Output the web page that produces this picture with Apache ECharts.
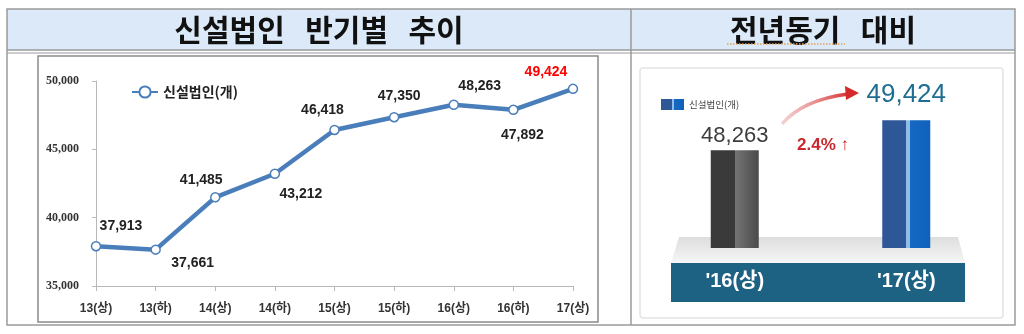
<!DOCTYPE html>
<html>
<head>
<meta charset="utf-8">
<script src="https://cdn.jsdelivr.net/npm/echarts@6/dist/echarts.min.js"></script>
<style>
html,body{margin:0;padding:0;background:#fff;}
#main{width:1024px;height:334px;}
</style>
</head>
<body>
<div id="main"></div>
<script>
// ---- data ----
const leftTitle = '신설법인 반기별 추이';
const rightTitle = '전년동기 대비';
const seriesName = '신설법인(개)';
const lineCategories = ['13(상)', '13(하)', '14(상)', '14(하)', '15(상)', '15(하)', '16(상)', '16(하)', '17(상)'];
const lineValues = [37913, 37661, 41485, 43212, 46418, 47350, 48263, 47892, 49424];
const yMin = 35000, yMax = 50000, yStep = 5000;
const barCategories = ["'16(상)", "'17(상)"];
const barValues = [48263, 49424];
const growthText = '2.4%';

// ---- presentation ----
const labelOffsets = [[25, -20], [37, 14], [-14, -17], [26, 20], [-12, -20], [5, -21], [26, -19], [9, 25], [-27, -17]];
const fmt = v => v.toLocaleString('en-US');
const sansKR = "'Liberation Sans','Noto Sans CJK KR',sans-serif";
const cjk = "'Noto Sans CJK KR',sans-serif";

const chart = echarts.init(document.getElementById('main'), null, {renderer: 'canvas'});

const lineData = lineValues.map((v, i) => ({
  value: v,
  label: {offset: labelOffsets[i], color: i === lineValues.length - 1 ? '#ff0000' : '#222222'}
}));

const barGray = new echarts.graphic.LinearGradient(0, 0, 1, 0, [
  {offset: 0, color: '#3a3a3a'}, {offset: 0.5, color: '#3a3a3a'},
  {offset: 0.5, color: '#757575'}, {offset: 1, color: '#4a4a4a'}
]);
const barBlue = new echarts.graphic.LinearGradient(0, 0, 1, 0, [
  {offset: 0, color: '#2e5797'}, {offset: 0.5, color: '#2e5797'},
  {offset: 0.5, color: '#8fbce8'}, {offset: 0.58, color: '#8fbce8'},
  {offset: 0.58, color: '#1669c2'}, {offset: 1, color: '#0e62bc'}
]);
const barStyles = [
  {color: barGray, label: {color: '#3d3d3d', fontSize: 22, distance: 3}},
  {color: barBlue, label: {color: '#1f6e91', fontSize: 26, distance: 12}}
];
const barData = barValues.map((v, i) => ({
  value: v,
  itemStyle: {color: barStyles[i].color},
  label: barStyles[i].label
}));

const option = {
  animation: false,
  backgroundColor: '#ffffff',
  grid: [
    {left: 96, right: 451, top: 81, bottom: 48},
    {left: 649, width: 343, top: 100, bottom: 86}
  ],
  legend: [
    {
      data: [seriesName], left: 126, top: 80,
      itemWidth: 26, itemHeight: 14,
      textStyle: {fontSize: 14, color: '#222', fontFamily: cjk, fontWeight: 'bold'},
      selectedMode: false
    },
    {
      data: [{name: seriesName + ' ', icon: 'rect'}], left: 656, top: 94,
      itemWidth: 23, itemHeight: 11,
      textStyle: {fontSize: 9.5, color: '#444', fontFamily: cjk},
      selectedMode: false
    }
  ],
  xAxis: [
    {
      type: 'category', gridIndex: 0, data: lineCategories, boundaryGap: false,
      axisLine: {lineStyle: {color: '#b8b8b8', width: 1}},
      axisTick: {show: true, length: 5, lineStyle: {color: '#b8b8b8'}},
      axisLabel: {margin: 17, fontSize: 12, fontWeight: 'bold', color: '#333', fontFamily: sansKR}
    },
    {
      type: 'category', gridIndex: 1, data: barCategories,
      axisLine: {show: false}, axisTick: {show: false},
      axisLabel: {margin: 23, fontSize: 20, fontWeight: 'bold', color: '#ffffff', fontFamily: sansKR}
    }
  ],
  yAxis: [
    {
      type: 'value', gridIndex: 0, min: yMin, max: yMax, interval: yStep,
      axisLine: {show: true, lineStyle: {color: '#b8b8b8', width: 1}},
      axisTick: {show: true, length: 4, lineStyle: {color: '#b8b8b8'}},
      splitLine: {show: false},
      axisLabel: {margin: 17, fontSize: 12, fontWeight: 'bold', color: '#333', fontFamily: "'Liberation Serif',serif", formatter: v => fmt(v)}
    },
    {
      type: 'value', gridIndex: 1, min: 44500, max: 50200, show: false, splitLine: {show: false}
    }
  ],
  series: [
    {
      name: seriesName, type: 'line', xAxisIndex: 0, yAxisIndex: 0,
      data: lineData,
      symbol: 'circle', symbolSize: 9,
      lineStyle: {color: '#4a7ebb', width: 4.5},
      itemStyle: {color: '#ffffff', borderColor: '#4a7ebb', borderWidth: 1.5},
      label: {show: true, position: 'inside', fontSize: 14, fontWeight: 'bold', fontFamily: sansKR, formatter: p => fmt(p.value)},
      z: 5
    },
    {
      name: seriesName + ' ', type: 'bar', xAxisIndex: 1, yAxisIndex: 1,
      data: barData, barWidth: 48,
      itemStyle: {color: barBlue},
      label: {show: true, position: 'top', fontFamily: sansKR, formatter: p => fmt(p.value)},
      z: 5
    }
  ],
  graphic: [
    // header cells
    {type: 'rect', z: -20, shape: {x: 7, y: 9, width: 624, height: 41}, style: {fill: '#dbe9f8'}},
    {type: 'rect', z: -20, shape: {x: 631, y: 9, width: 384, height: 41}, style: {fill: '#dbe9f8'}},
    // table lines
    {type: 'rect', z: -5, shape: {x: 7, y: 9, width: 1008, height: 316}, style: {fill: null, stroke: '#9a9a9a', lineWidth: 1.5}},
    {type: 'line', z: -5, shape: {x1: 7, y1: 50, x2: 1015, y2: 50}, style: {stroke: '#9a9a9a', lineWidth: 1.5}},
    {type: 'line', z: -5, shape: {x1: 7, y1: 53, x2: 1015, y2: 53}, style: {stroke: '#9a9a9a', lineWidth: 1}},
    {type: 'line', z: -5, shape: {x1: 631, y1: 9, x2: 631, y2: 325}, style: {stroke: '#9a9a9a', lineWidth: 1.5}},
    // titles
    {type: 'text', z: 10, x: 319, y: 30, style: {text: leftTitle.replace(/ /g, '   '), fill: '#111', font: "bold 30px 'Noto Sans CJK KR'", align: 'center', verticalAlign: 'middle'}},
    {type: 'text', z: 10, x: 823, y: 30, style: {text: rightTitle.replace(/ /g, '   '), fill: '#111', font: "bold 30px 'Noto Sans CJK KR'", align: 'center', verticalAlign: 'middle'}},
    {type: 'line', z: 10, shape: {x1: 727, y1: 44, x2: 845, y2: 44}, style: {stroke: '#e3a35a', lineWidth: 1.5, lineDash: [1.5, 1.5]}},
    // left chart frame
    {type: 'rect', z: -5, shape: {x: 38, y: 56, width: 560, height: 266}, style: {fill: null, stroke: '#8a8a8a', lineWidth: 1.5}},
    // right panel frame
    {type: 'rect', z: -15, shape: {x: 640, y: 68, width: 363, height: 250, r: 3}, style: {fill: '#ffffff', stroke: '#e4e4e4', lineWidth: 1.5}},
    // platform slab
    {type: 'polygon', z: -10, shape: {points: [[679, 237], [958, 237], [965, 263], [671, 263]]},
      style: {fill: new echarts.graphic.LinearGradient(0, 0, 0, 1, [{offset: 0, color: '#dedede'}, {offset: 0.6, color: '#ececec'}, {offset: 1, color: '#f6f6f6'}])}},
    // base band
    {type: 'rect', z: -9, shape: {x: 671, y: 263, width: 294, height: 39}, style: {fill: '#1e6283'}},
    // growth arrow
    {type: 'bezierCurve', z: 10, shape: {x1: 782, y1: 124, cpx1: 802, cpy1: 100, x2: 848, y2: 94},
      style: {fill: null, lineWidth: 3.5, stroke: new echarts.graphic.LinearGradient(0, 0, 1, 0, [{offset: 0, color: 'rgba(235,170,170,0.5)'}, {offset: 1, color: '#d42a2c'}])}},
    {type: 'polygon', z: 10, shape: {points: [[845, 86], [859, 93], [846, 100]]}, style: {fill: '#d42a2c'}},
    {type: 'text', z: 10, x: 823, y: 145, style: {text: growthText + ' ↑', fill: '#c8282d', font: "bold 17px 'Liberation Sans','DejaVu Sans'", align: 'center', verticalAlign: 'middle'}}
  ]
};
chart.setOption(option);
</script>
</body>
</html>
